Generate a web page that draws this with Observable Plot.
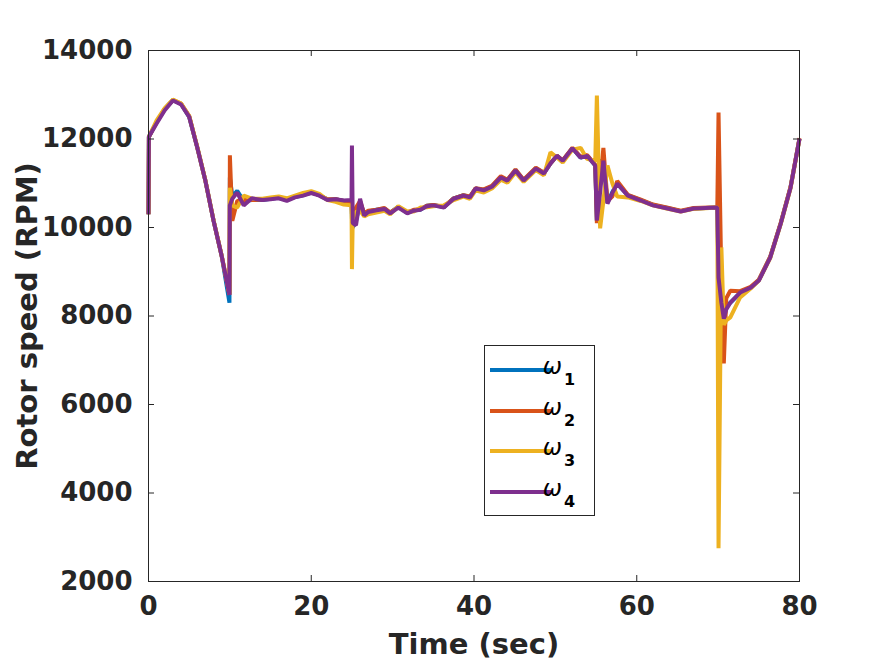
<!DOCTYPE html>
<html>
<head>
<meta charset="utf-8">
<script src="https://cdn.jsdelivr.net/npm/d3@7"></script>
<script src="https://cdn.jsdelivr.net/npm/@observablehq/plot@0.6"></script>
<style>
  html, body { margin: 0; padding: 0; background: #ffffff; }
  #chart svg { display: block; }
  #chart [aria-label="x-axis label"] text,
  #chart [aria-label="y-axis label"] text { font-size: 29px; }
  #chart .omega { font-weight: normal; font-style: italic; font-size: 23px; }
  #chart .sub { font-weight: bold; font-style: normal; font-size: 16px; }
</style>
</head>
<body>
<div id="chart"></div>
<script>
// Simulation time (s)
const time = [
  0, 0.05, 1, 2, 3, 4, 5, 6, 7, 8,
  9, 9.95, 10.0, 10.3, 10.9, 11.7, 12.7, 14, 15, 16,
  17, 18, 19, 20, 21, 22, 23, 24, 24.95, 25.0,
  25.1, 25.5, 26, 26.5, 27, 28, 29, 29.7, 30.7, 31.8,
  32.6, 33.4, 34.2, 35, 36.3, 37.5, 38.7, 39.5, 40.2, 41.2,
  42.2, 43.3, 44.1, 45.1, 46.1, 47.6, 48.6, 49.4, 50.2, 50.9,
  52.1, 53.1, 53.9, 54.9, 55.1, 55.5, 55.9, 56.4, 57, 57.6,
  58.9, 60.5, 62, 63.8, 65.4, 67, 69.9, 70.05, 70.4, 70.7,
  71.0, 71.5, 72.7, 74, 75, 76.4, 77.7, 78.9, 80
];

// Rotor speeds (RPM), one array per rotor
const omega1 = [
  10300, 12050, 12380, 12680, 12880, 12790, 12500, 11800, 11050, 10150,
  9350, 8300, 11130, 10700, 10830, 10600, 10620, 10620, 10650, 10670,
  10620, 10690, 10730, 10790, 10730, 10630, 10640, 10600, 10580, 10200,
  10000, 10150, 10550, 10330, 10360, 10400, 10430, 10330, 10470, 10330,
  10390, 10400, 10490, 10510, 10460, 10660, 10730, 10690, 10880, 10850,
  10930, 11140, 11070, 11300, 11070, 11340, 11230, 11450, 11620, 11510,
  11790, 11580, 11620, 11400, 10150, 11500, 11520, 10560, 10800, 10990,
  10730, 10620, 10510, 10440, 10370, 10430, 10450, 8900, 8100, 7950,
  8200, 8300, 8520, 8640, 8810, 9330, 10100, 10910, 12010
];
const omega2 = [
  10300, 12050, 12380, 12680, 12880, 12800, 12520, 11800, 11050, 10150,
  9350, 8480, 11630, 10150, 10600, 10620, 10620, 10630, 10660, 10680,
  10640, 10700, 10740, 10790, 10730, 10640, 10640, 10600, 10580, 10300,
  10200, 10450, 10600, 10320, 10380, 10400, 10440, 10340, 10460, 10340,
  10400, 10410, 10490, 10510, 10470, 10660, 10730, 10700, 10890, 10860,
  10940, 11160, 11080, 11310, 11080, 11350, 11240, 11450, 11620, 11520,
  11800, 11600, 11640, 11420, 10100, 11000, 11800, 10600, 10700, 11050,
  10740, 10630, 10520, 10450, 10380, 10440, 10460, 12600, 8800, 6930,
  8400, 8570, 8560, 8660, 8820, 9340, 10110, 10920, 12020
];
const omega3 = [
  10300, 12050, 12420, 12700, 12890, 12800, 12520, 11820, 11060, 10160,
  9360, 8500, 10900, 10500, 10450, 10720, 10650, 10650, 10680, 10700,
  10660, 10720, 10780, 10820, 10760, 10620, 10580, 10520, 10500, 9060,
  10200, 10350, 10380, 10250, 10300, 10340, 10380, 10300, 10480, 10360,
  10360, 10450, 10460, 10480, 10500, 10620, 10700, 10650, 10840, 10790,
  10880, 11080, 11010, 11250, 11030, 11300, 11180, 11700, 11580, 11470,
  11760, 11800, 11550, 11500, 12980, 9980, 10600, 11400, 11000, 10700,
  10680, 10600, 10500, 10420, 10360, 10420, 10450, 2750, 9550, 7800,
  7900, 7970, 8420, 8620, 8800, 9310, 10080, 10890, 12000
];
const omega4 = [
  10300, 12050, 12350, 12650, 12870, 12780, 12500, 11800, 11050, 10150,
  9350, 8480, 10500, 10650, 10790, 10500, 10660, 10620, 10640, 10660,
  10600, 10680, 10720, 10780, 10720, 10620, 10640, 10610, 10620, 11850,
  10100, 10050, 10650, 10270, 10350, 10390, 10420, 10320, 10450, 10320,
  10380, 10400, 10480, 10500, 10450, 10650, 10720, 10680, 10880, 10840,
  10920, 11130, 11060, 11290, 11060, 11330, 11220, 11450, 11620, 11510,
  11790, 11580, 11620, 11400, 10160, 10800, 11510, 10540, 10780, 10990,
  10720, 10610, 10500, 10430, 10360, 10430, 10450, 8870, 8300, 7940,
  8150, 8300, 8530, 8640, 8800, 9320, 10090, 10900, 12010
];

const seriesNames = ["1", "2", "3", "4"];
const seriesColors = ["#0072BD", "#D95319", "#EDB120", "#7E2F8E"];
const xTicks = [0, 20, 40, 60, 80];
const yTicks = [2000, 4000, 6000, 8000, 10000, 12000, 14000];

const W = 884, H = 663;
const margin = {top: 50, right: 85, bottom: 82, left: 148};
const innerW = W - margin.left - margin.right;
const innerH = H - margin.top - margin.bottom;
const ink = "#262626";
const tickLen = 6;

const series = [omega1, omega2, omega3, omega4].map((vals, s) =>
  time.map((t, i) => ({t, v: vals[i], s}))
);

const plot = Plot.plot({
  width: W,
  height: H,
  marginTop: margin.top,
  marginRight: margin.right,
  marginBottom: margin.bottom,
  marginLeft: margin.left,
  style: {fontFamily: "DejaVu Sans", fontSize: "26px", fontWeight: "bold", color: ink, background: "#ffffff"},
  x: {domain: [0, 80]},
  y: {domain: [2000, 14000]},
  marks: [
    ...series.map((data, s) =>
      Plot.line(data, {
        x: "t", y: "v",
        stroke: seriesColors[s],
        strokeWidth: 4,
        strokeLinejoin: "miter",
        strokeLinecap: "butt"
      })
    ),
    // inward ticks on all four sides
    Plot.tickX(xTicks, {x: d => d, stroke: ink, insetTop: innerH - tickLen}),
    Plot.tickX(xTicks, {x: d => d, stroke: ink, insetBottom: innerH - tickLen}),
    Plot.tickY(yTicks, {y: d => d, stroke: ink, insetRight: innerW - tickLen}),
    Plot.tickY(yTicks, {y: d => d, stroke: ink, insetLeft: innerW - tickLen}),
    Plot.frame({stroke: ink, strokeWidth: 1}),
    Plot.axisX(xTicks, {
      tickSize: 0, tickPadding: 15, tickFormat: "d",
      label: "Time (sec)", labelAnchor: "center", labelArrow: "none", labelOffset: 72
    }),
    Plot.axisY(yTicks, {
      tickSize: 0, tickPadding: 16, tickFormat: "d",
      label: "Rotor speed (RPM)", labelAnchor: "center", labelArrow: "none", labelOffset: 132
    })
  ]
});

// Legend box inside the axes
const svg = d3.select(plot);
const lg = svg.append("g").attr("transform", "translate(484,345)");
lg.append("rect")
  .attr("x", 0.5).attr("y", 0.5).attr("width", 110).attr("height", 170)
  .attr("fill", "#ffffff").attr("stroke", ink).attr("stroke-width", 1);
const rowY = [25, 66, 106, 147];
seriesNames.forEach((name, i) => {
  const row = lg.append("g").attr("transform", `translate(0,${rowY[i]})`);
  row.append("line")
    .attr("x1", 6).attr("x2", 68).attr("y1", 0).attr("y2", 0)
    .attr("stroke", seriesColors[i]).attr("stroke-width", 4);
  const txt = row.append("text")
    .attr("x", 75).attr("y", 4)
    .attr("fill", "#000000")
    .style("font-family", "DejaVu Sans");
  txt.append("tspan").attr("class", "omega").text("ω");
  txt.append("tspan").attr("class", "sub").text(name).attr("dx", 2).attr("dy", 11);
});

document.getElementById("chart").appendChild(plot);
</script>
</body>
</html>
